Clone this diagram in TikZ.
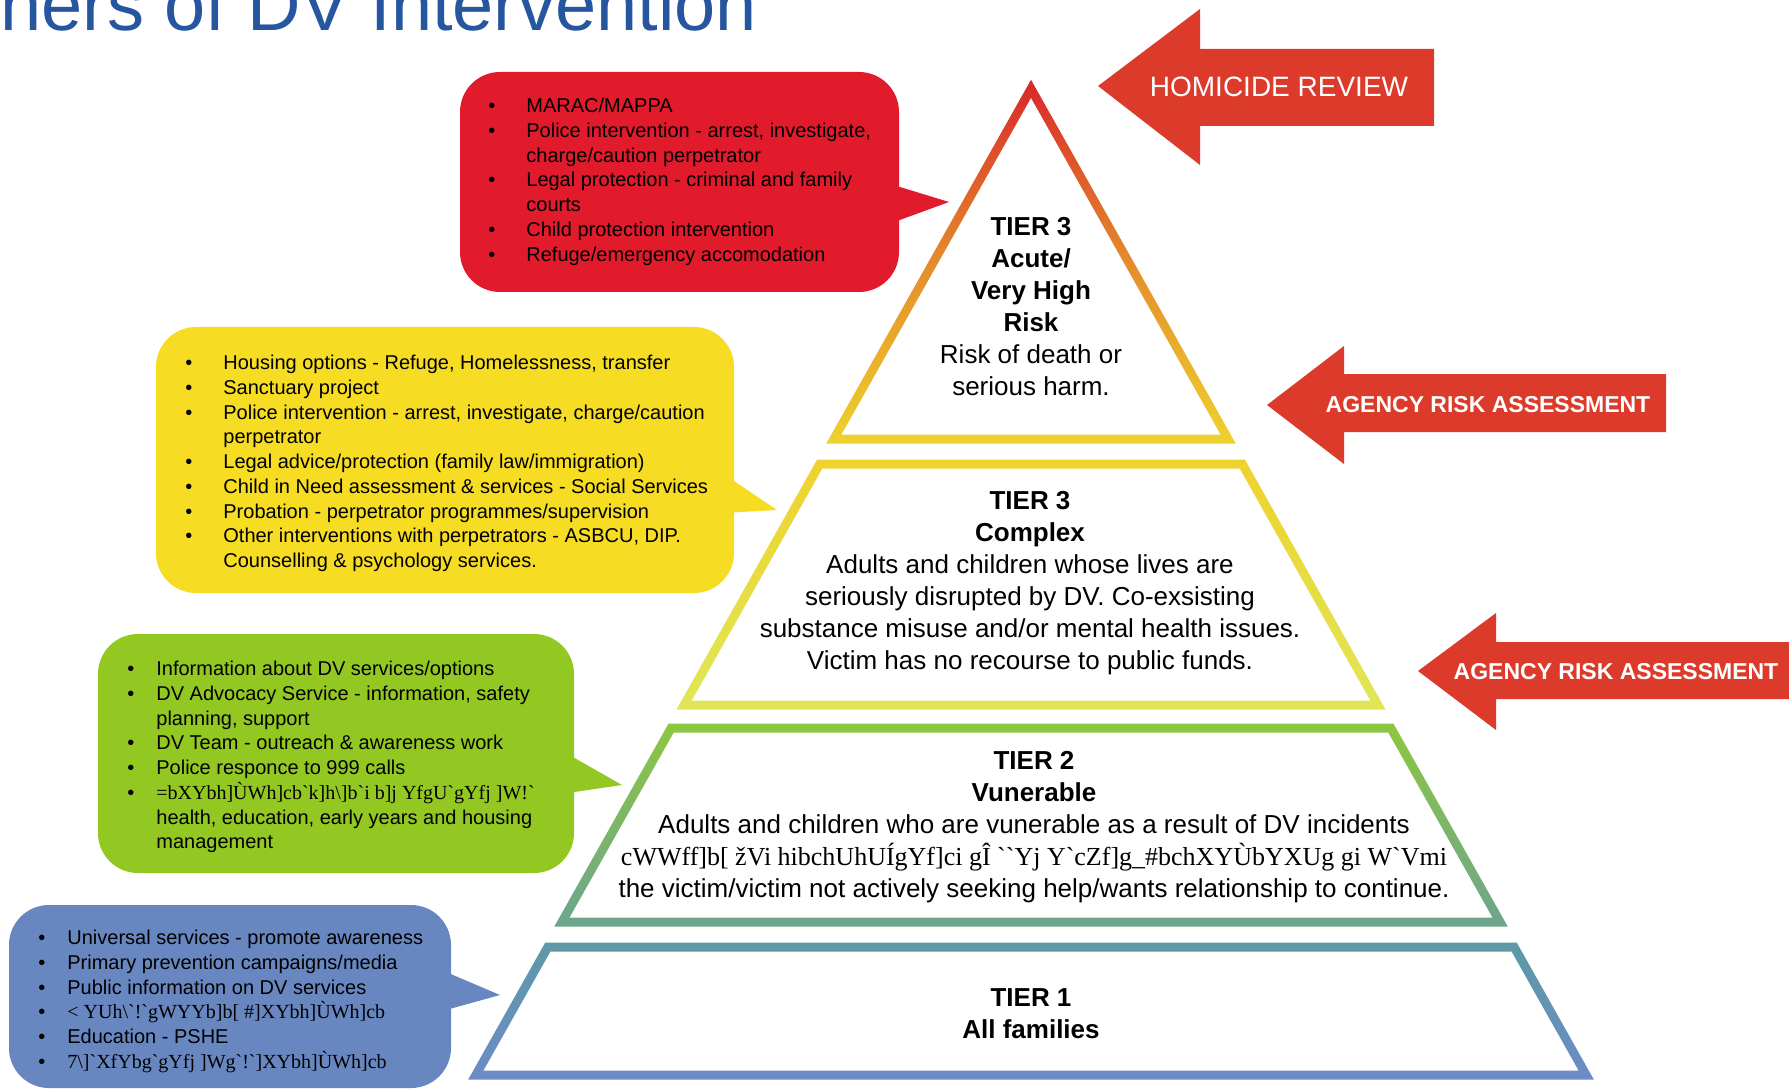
\documentclass[tikz,border=0pt]{standalone}
\usepackage{fontspec}
\setmainfont{Liberation Sans}
\newfontfamily\junkfont{Liberation Serif}
\usetikzlibrary{fit,calc}

\definecolor{titleblue}{HTML}{2756A0}
\definecolor{boxred}{HTML}{E11B2B}
\definecolor{boxyellow}{HTML}{F6DC23}
\definecolor{boxgreen}{HTML}{93C822}
\definecolor{boxblue}{HTML}{6887C1}
\definecolor{arrowred}{HTML}{DC3A2A}
\definecolor{pyrred}{HTML}{D9272B}
\definecolor{pyrorange}{HTML}{E48C2B}
\definecolor{pyryellow}{HTML}{EFD22E}
\definecolor{pyrpale}{HTML}{DFE757}
\definecolor{pyrgreen}{HTML}{8DC73F}
\definecolor{pyrteal}{HTML}{6CA58E}
\definecolor{pyrsea}{HTML}{5E9AA6}
\definecolor{pyrblue}{HTML}{6C8BC7}

\newcommand{\bul}{\makebox[19pt][l]{\textbullet}}
\newcommand{\ind}{\hspace*{19pt}}
\newcommand{\bulnarrow}{\makebox[14.5pt][l]{\textbullet}}
\newcommand{\indnarrow}{\hspace*{14.5pt}}

\tikzset{
  callout/.style={inner sep=0pt, rounded corners=20pt},
  boxtext/.style={anchor=north west, inner sep=0pt, align=left, font=\fontsize{10}{12.35}\selectfont},
  tiertext/.style={anchor=north, inner sep=0pt, align=center, font=\fontsize{13}{16}\selectfont},
  arrowtext/.style={text=white, inner sep=0pt}
}

\begin{document}
\begin{tikzpicture}[x=0.5pt,y=-0.5pt]

	\path[use as bounding box, fill=white] (0,0) rectangle (1789,1091);

	\node[anchor=base west, inner sep=0pt, text=titleblue, font=\fontsize{37}{40}\selectfont] (title) at (0,31) {ners of DV Intervention};

	% pyramid
	\shade[top color=pyrred, bottom color=pyryellow, middle color=pyrorange] (1031,79.8) -- (1235.7,443.5) -- (826.3,443.5) -- cycle;
	\fill[white] (1031,98.2) -- (1220.4,434.5) -- (841.6,434.5) -- cycle;

	\shade[top color=pyryellow, bottom color=pyrpale] (817.2,459.5) -- (1244.8,459.5) -- (1385.5,709.5) -- (676.5,709.5) -- cycle;
	\fill[white] (822.5,468.5) -- (1239.5,468.5) -- (1370.1,700.5) -- (691.9,700.5) -- cycle;

	\shade[top color=pyrgreen, bottom color=pyrteal] (668.6,723.5) -- (1393.4,723.5) -- (1507.7,926.5) -- (554.3,926.5) -- cycle;
	\fill[white] (673.9,732.5) -- (1388.1,732.5) -- (1492.3,917.5) -- (569.7,917.5) -- cycle;

	\shade[top color=pyrsea, bottom color=pyrblue] (545.3,942.5) -- (1516.7,942.5) -- (1593.8,1079.5) -- (468.2,1079.5) -- cycle;
	\fill[white] (550.6,951.5) -- (1511.4,951.5) -- (1578.4,1070.5) -- (483.6,1070.5) -- cycle;

	\node[tiertext] (acute) at (1031,217) {\textbf{TIER 3}\\ \textbf{Acute/}\\ \textbf{Very High}\\ \textbf{Risk}\\ Risk of death or\\ serious harm.};
	\node[tiertext] (complex) at (1030,491) {\textbf{TIER 3}\\ \textbf{Complex}\\ Adults and children whose lives are\\ seriously disrupted by DV. Co-exsisting\\ substance misuse and/or mental health issues.\\ Victim has no recourse to public funds.};
	\node[tiertext] (vunerable) at (1034,751) {\textbf{TIER 2}\\ \textbf{Vunerable}\\ Adults and children who are vunerable as a result of DV incidents\\ {\junkfont cWWff]b[ žVi hibchUhUÍgYf]ci gÎ `{}`Yj Y`cZf]g\_\#bchXYÙbYXUg gi W`Vmi}\\ the victim/victim not actively seeking help/wants relationship to continue.};
	\node[tiertext] (families) at (1031,988) {\textbf{TIER 1}\\ \textbf{All families}};

	% arrows
	\fill[arrowred] (1098,86) -- (1200,9) -- (1200,49) -- (1434,49) -- (1434,126) -- (1200,126) -- (1200,165) -- cycle;
	\node[arrowtext, font=\fontsize{14}{16}\selectfont] (homicide) at (1279,87) {HOMICIDE REVIEW};

	\fill[arrowred] (1267,405) -- (1344,346) -- (1344,374) -- (1666,374) -- (1666,432) -- (1344,432) -- (1344,464) -- cycle;
	\node[arrowtext, font=\fontsize{11.5}{14}\selectfont\bfseries] (agencyA) at (1488,405) {AGENCY RISK ASSESSMENT};

	\fill[arrowred] (1418,671) -- (1496,613) -- (1496,642) -- (1800,642) -- (1800,699) -- (1496,699) -- (1496,730) -- cycle;
	\node[arrowtext, font=\fontsize{11.5}{14}\selectfont\bfseries] (agencyB) at (1616,672) {AGENCY RISK ASSESSMENT};

	% callouts
	\node[callout, fill=boxred, fit={(460,72) (899,292)}] (redbox) {};
	\coordinate (redtip) at (949,202);
	\fill[boxred] ($(redbox.north east)+(-4,114)$) -- (redtip) -- ($(redbox.north east)+(-4,150)$) -- cycle;
	\node[boxtext] (redlist) at (488,98) {\bul MARAC/MAPPA\\ \bul Police intervention - arrest, investigate,\\ \ind charge/caution perpetrator\\ \bul Legal protection - criminal and family\\ \ind courts\\ \bul Child protection intervention\\ \bul Refuge/emergency accomodation};

	\node[callout, fill=boxyellow, fit={(156,327) (734,593)}] (yellowbox) {};
	\coordinate (yellowtip) at (777,510);
	\fill[boxyellow] ($(yellowbox.north east)+(-4,152)$) -- (yellowtip) -- ($(yellowbox.north east)+(-4,186)$) -- cycle;
	\node[boxtext] (yellowlist) at (185,355) {\bul Housing options - Refuge, Homelessness, transfer\\ \bul Sanctuary project\\ \bul Police intervention - arrest, investigate, charge/caution\\ \ind perpetrator\\ \bul Legal advice/protection (family law/immigration)\\ \bul Child in Need assessment \& services - Social Services\\ \bul Probation - perpetrator programmes/supervision\\ \bul Other interventions with perpetrators - ASBCU, DIP.\\ \ind Counselling \& psychology services.};

	\node[callout, fill=boxgreen, fit={(98,634) (574,873)}] (greenbox) {};
	\coordinate (greentip) at (622,785);
	\fill[boxgreen] ($(greenbox.north east)+(-4,122)$) -- (greentip) -- ($(greenbox.north east)+(-4,159)$) -- cycle;
	\node[boxtext] (greenlist) at (127,661) {\bulnarrow Information about DV services/options\\ \bulnarrow DV Advocacy Service - information, safety\\ \indnarrow planning, support\\ \bulnarrow DV Team - outreach \& awareness work\\ \bulnarrow Police responce to 999 calls\\ \bulnarrow {\junkfont =bXYbh]ÙWh]cb`k]h\textbackslash]b`i b]j YfgU`gYfj ]W!{}`}\\ \indnarrow health, education, early years and housing\\ \indnarrow management};

	\node[callout, fill=boxblue, fit={(9,905) (451,1088)}] (bluebox) {};
	\coordinate (bluetip) at (500,995);
	\fill[boxblue] ($(bluebox.north east)+(-4,68)$) -- (bluetip) -- ($(bluebox.north east)+(-4,105)$) -- cycle;
	\node[boxtext] (bluelist) at (38,930) {\bulnarrow Universal services - promote awareness\\ \bulnarrow Primary prevention campaigns/media\\ \bulnarrow Public information on DV services\\ \bulnarrow {\junkfont < YUh\textbackslash`!{}`gWYYb]b[ \#]XYbh]ÙWh]cb}\\ \bulnarrow Education - PSHE\\ \bulnarrow {\junkfont 7\textbackslash]`XfYbg`gYfj ]Wg`!{}`]XYbh]ÙWh]cb}};

\end{tikzpicture}
\end{document}
